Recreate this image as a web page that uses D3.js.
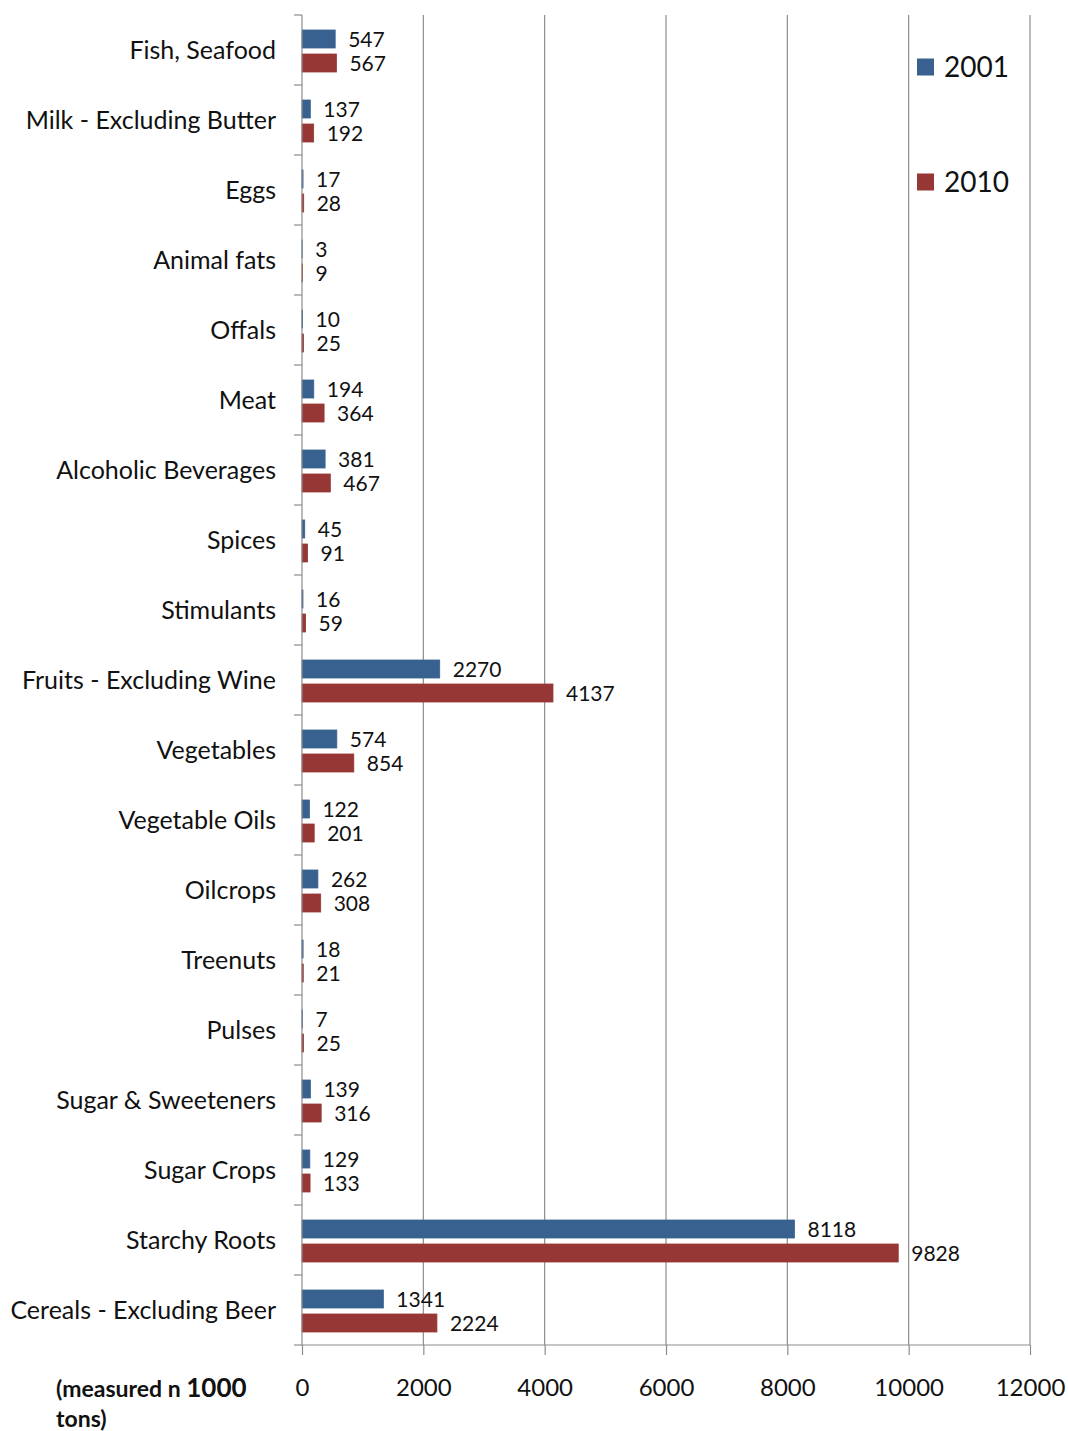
<!DOCTYPE html>
<html>
<head>
<meta charset="utf-8">
<script src="https://cdn.jsdelivr.net/npm/d3@7"></script>
<style>
  html, body { margin: 0; padding: 0; background: #fff; }
  svg { display: block; font-family: Lato, "Open Sans", sans-serif; }
</style>
</head>
<body>
<script>
// Food categories, top to bottom
const categories = [
  "Fish, Seafood", "Milk - Excluding Butter", "Eggs", "Animal fats", "Offals",
  "Meat", "Alcoholic Beverages", "Spices", "Stimulants", "Fruits - Excluding Wine",
  "Vegetables", "Vegetable Oils", "Oilcrops", "Treenuts", "Pulses",
  "Sugar & Sweeteners", "Sugar Crops", "Starchy Roots", "Cereals - Excluding Beer"
];
const years = ["2001", "2010"];
const values2001 = [547, 137, 17, 3, 10, 194, 381, 45, 16, 2270, 574, 122, 262, 18, 7, 139, 129, 8118, 1341];
const values2010 = [567, 192, 28, 9, 25, 364, 467, 91, 59, 4137, 854, 201, 308, 21, 25, 316, 133, 9828, 2224];
const xTicks = [0, 2000, 4000, 6000, 8000, 10000, 12000];
const unitNote = ["(measured n ", "1000", "tons)"];

const W = 1068, H = 1431;
const colors = { "2001": "#386190", "2010": "#963735" };
const seriesByYear = { "2001": values2001, "2010": values2010 };

const svg = d3.select("body").append("svg").attr("width", W).attr("height", H);
svg.append("rect").attr("width", W).attr("height", H).attr("fill", "#fff");

const x = d3.scaleLinear().domain([0, 12000]).range([302, 1030]);
const y = d3.scaleBand().domain(categories).range([15, 1345]).paddingInner(0).paddingOuter(0);
const inner = d3.scaleBand().domain(years).range([15, 57]).paddingInner(0.25);

// vertical gridlines
svg.append("g").selectAll("line").data(xTicks.slice(1)).join("line")
  .attr("x1", d => x(d)).attr("x2", d => x(d))
  .attr("y1", 15).attr("y2", 1345)
  .attr("stroke", "#8c8c8c").attr("stroke-width", 1.2);

// bars with value labels
const rows = categories.map((c, i) => ({ c, i }));
years.forEach(yr => {
  const vals = seriesByYear[yr];
  const g = svg.append("g");
  g.selectAll("rect").data(rows).join("rect")
    .attr("x", x(0))
    .attr("y", d => y(d.c) + inner(yr))
    .attr("width", d => x(vals[d.i]) - x(0))
    .attr("height", inner.bandwidth())
    .attr("fill", colors[yr])
    .attr("stroke", colors[yr]).attr("stroke-width", 0.8);
  g.selectAll("text").data(rows).join("text")
    .attr("x", d => x(vals[d.i]) + 13)
    .attr("y", d => y(d.c) + inner(yr) + inner.bandwidth() / 2)
    .attr("dy", "0.36em")
    .attr("font-size", 21).attr("fill", "#111")
    .text(d => vals[d.i]);
});

// bottom axis
const xAxis = svg.append("g").attr("transform", "translate(0,1345)")
  .call(d3.axisBottom(x).tickValues(xTicks).tickSize(10).tickPadding(24).tickFormat(d3.format("d")));
xAxis.select(".domain").attr("stroke", "#8c8c8c").attr("stroke-width", 1.2).attr("d", "M302,0H1030");
xAxis.selectAll(".tick line").attr("stroke", "#8c8c8c").attr("stroke-width", 1.2);
xAxis.selectAll(".tick text").attr("font-size", 24).attr("fill", "#111")
  .attr("font-family", "Lato, sans-serif");

// left axis line with ticks at category boundaries
const bounds = categories.map(c => y(c)).concat([1345]);
svg.append("line").attr("x1", 302).attr("x2", 302).attr("y1", 15).attr("y2", 1345)
  .attr("stroke", "#8c8c8c").attr("stroke-width", 1.2);
svg.append("g").selectAll("line").data(bounds).join("line")
  .attr("x1", 294).attr("x2", 302).attr("y1", d => d).attr("y2", d => d)
  .attr("stroke", "#8c8c8c").attr("stroke-width", 1.2);

// category labels
svg.append("g").selectAll("text").data(categories).join("text")
  .attr("x", 276).attr("y", d => y(d) + y.bandwidth() / 2)
  .attr("dy", "0.36em").attr("text-anchor", "end")
  .attr("font-size", 25).attr("fill", "#111")
  .text(d => d);

// legend
const legend = svg.append("g");
years.forEach((yr, i) => {
  const ly = 67 + i * 115;
  legend.append("rect").attr("x", 917).attr("y", ly - 8.5).attr("width", 17).attr("height", 17)
    .attr("fill", colors[yr]);
  legend.append("text").attr("x", 944).attr("y", ly).attr("dy", "0.36em")
    .attr("font-size", 28).attr("fill", "#111").text(yr);
});

// unit note
const note = svg.append("text").attr("x", 56).attr("y", 1389).attr("dy", "0.36em")
  .attr("font-size", 23).attr("font-weight", "bold").attr("fill", "#111");
note.append("tspan").text(unitNote[0]);
note.append("tspan").attr("font-size", 26).text(unitNote[1]);
svg.append("text").attr("x", 56).attr("y", 1419).attr("dy", "0.36em")
  .attr("font-size", 23).attr("font-weight", "bold").attr("fill", "#111").text(unitNote[2]);
</script>
</body>
</html>
